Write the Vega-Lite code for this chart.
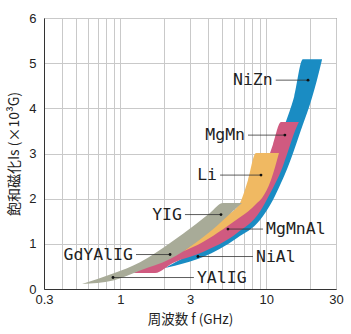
{
  "$schema": "https://vega.github.io/schema/vega-lite/v6.json",
  "width": 292,
  "height": 271,
  "autosize": {"type": "none"},
  "padding": {"left": 44, "top": 18, "right": 15, "bottom": 45},
  "background": "white",
  "config": {"view": {"stroke": "#555", "strokeWidth": 1}, "font": "Liberation Sans"},
  "datasets": {
    "bands": [
      {"band": "blue", "f": 2.02, "lo": 0.465, "hi": 0.465},
      {"band": "blue", "f": 2.77, "lo": 0.575, "hi": 0.708},
      {"band": "blue", "f": 3.68, "lo": 0.708, "hi": 0.931},
      {"band": "blue", "f": 6.30, "lo": 1.128, "hi": 1.440},
      {"band": "blue", "f": 9.05, "lo": 1.527, "hi": 2.206},
      {"band": "blue", "f": 11.1, "lo": 1.969, "hi": 2.887},
      {"band": "blue", "f": 12.6, "lo": 2.347, "hi": 3.392},
      {"band": "blue", "f": 13.4, "lo": 2.538, "hi": 3.644},
      {"band": "blue", "f": 15.5, "lo": 3.077, "hi": 4.259},
      {"band": "blue", "f": 17.8, "lo": 3.644, "hi": 5.088},
      {"band": "blue", "f": 19.0, "lo": 3.894, "hi": 5.088},
      {"band": "blue", "f": 22.2, "lo": 4.624, "hi": 5.088},
      {"band": "blue", "f": 24.1, "lo": 5.088, "hi": 5.088},
      {"band": "pink", "f": 1.22, "lo": 0.354, "hi": 0.354},
      {"band": "pink", "f": 1.73, "lo": 0.354, "hi": 0.597},
      {"band": "pink", "f": 2.29, "lo": 0.575, "hi": 0.819},
      {"band": "pink", "f": 3.68, "lo": 0.819, "hi": 1.173},
      {"band": "pink", "f": 6.30, "lo": 1.239, "hi": 1.637},
      {"band": "pink", "f": 9.05, "lo": 1.715, "hi": 2.412},
      {"band": "pink", "f": 10.6, "lo": 2.115, "hi": 3.009},
      {"band": "pink", "f": 11.1, "lo": 2.235, "hi": 3.197},
      {"band": "pink", "f": 12.6, "lo": 2.611, "hi": 3.695},
      {"band": "pink", "f": 14.3, "lo": 3.119, "hi": 3.695},
      {"band": "pink", "f": 15.7, "lo": 3.496, "hi": 3.695},
      {"band": "pink", "f": 16.7, "lo": 3.695, "hi": 3.695},
      {"band": "orange", "f": 2.69, "lo": 0.830, "hi": 0.830},
      {"band": "orange", "f": 3.68, "lo": 1.040, "hi": 1.173},
      {"band": "orange", "f": 5.05, "lo": 1.323, "hi": 1.571},
      {"band": "orange", "f": 6.60, "lo": 1.586, "hi": 1.903},
      {"band": "orange", "f": 7.49, "lo": 1.715, "hi": 2.412},
      {"band": "orange", "f": 8.50, "lo": 1.881, "hi": 3.009},
      {"band": "orange", "f": 9.34, "lo": 2.013, "hi": 3.009},
      {"band": "orange", "f": 10.76, "lo": 2.412, "hi": 3.009},
      {"band": "orange", "f": 12.2, "lo": 3.009, "hi": 3.009},
      {"band": "gray", "f": 0.546, "lo": 0.111, "hi": 0.111},
      {"band": "gray", "f": 0.891, "lo": 0.188, "hi": 0.343},
      {"band": "gray", "f": 1.364, "lo": 0.409, "hi": 0.595},
      {"band": "gray", "f": 2.19, "lo": 0.664, "hi": 1.018},
      {"band": "gray", "f": 3.30, "lo": 1.029, "hi": 1.438},
      {"band": "gray", "f": 4.11, "lo": 1.268, "hi": 1.681},
      {"band": "gray", "f": 5.05, "lo": 1.524, "hi": 1.903},
      {"band": "gray", "f": 6.81, "lo": 1.903, "hi": 1.903}
    ],
    "labels": [
      {"name": "NiZn", "dot": 19.3, "end": 11.6, "y": 4.624, "side": "L"},
      {"name": "MgMn", "dot": 13.4, "end": 7.49, "y": 3.407, "side": "L"},
      {"name": "Li", "dot": 9.19, "end": 4.82, "y": 2.522, "side": "L"},
      {"name": "YIG", "dot": 4.89, "end": 2.77, "y": 1.648, "side": "L"},
      {"name": "GdYAlIG", "dot": 2.19, "end": 1.28, "y": 0.763, "side": "L"},
      {"name": "MgMnAl", "dot": 5.46, "end": 9.49, "y": 1.327, "side": "R"},
      {"name": "NiAl", "dot": 3.40, "end": 8.10, "y": 0.719, "side": "R"},
      {"name": "YAlIG", "dot": 0.891, "end": 3.19, "y": 0.254, "side": "R"}
    ]
  },
  "layer": [
    {
      "data": {"name": "bands"},
      "transform": [{"filter": "datum.band === 'blue'"}],
      "mark": {"type": "area", "color": "#1a8cc3", "interpolate": "monotone"},
      "encoding": {
        "x": {"field": "f", "type": "quantitative", "title": "周波数 f (GHz)",
          "scale": {"type": "log", "domain": [0.3, 30], "nice": false},
          "axis": {"values": [0.3, 0.4, 0.5, 0.6, 0.7, 0.8, 0.9, 1, 2, 3, 4, 5, 6, 7, 8, 9, 10, 20, 30],
            "format": "~g",
            "labelExpr": "indexof([0.3, 1, 3, 10, 30], datum.value) >= 0 ? datum.label : ''",
            "labelFlush": false, "labelOverlap": false, "ticks": false,
            "grid": true, "gridColor": "#c9c9c9", "gridWidth": 1,
            "domainColor": "#333", "labelFontSize": 13, "labelColor": "#222", "labelPadding": 4,
            "titleFont": "Noto Sans CJK JP", "titleFontSize": 13.5, "titleFontWeight": "normal", "titleColor": "#222", "titlePadding": 6}},
        "y": {"field": "lo", "type": "quantitative", "title": "飽和磁化Is (×10³G)",
          "scale": {"domain": [0, 6], "nice": false},
          "axis": {"values": [0, 1, 2, 3, 4, 5, 6], "ticks": false, "grid": true, "gridColor": "#c9c9c9",
            "domainColor": "#333", "labelFontSize": 13, "labelColor": "#222", "labelPadding": 8,
            "titleFont": "Noto Sans CJK JP", "titleFontSize": 14, "titleFontWeight": "normal", "titleColor": "#222", "titlePadding": 7}},
        "y2": {"field": "hi"}
      }
    },
    {
      "data": {"name": "bands"},
      "transform": [{"filter": "datum.band === 'pink'"}],
      "mark": {"type": "area", "color": "#d05a80", "interpolate": "monotone"},
      "encoding": {
        "x": {"field": "f", "type": "quantitative", "title": "周波数 f (GHz)"},
        "y": {"field": "lo", "type": "quantitative", "title": "飽和磁化Is (×10³G)"},
        "y2": {"field": "hi"}
      }
    },
    {
      "data": {"name": "bands"},
      "transform": [{"filter": "datum.band === 'orange'"}],
      "mark": {"type": "area", "color": "#f0b962", "interpolate": "monotone"},
      "encoding": {
        "x": {"field": "f", "type": "quantitative", "title": "周波数 f (GHz)"},
        "y": {"field": "lo", "type": "quantitative", "title": "飽和磁化Is (×10³G)"},
        "y2": {"field": "hi"}
      }
    },
    {
      "data": {"name": "bands"},
      "transform": [{"filter": "datum.band === 'gray'"}],
      "mark": {"type": "area", "color": "#a8ab98", "interpolate": "monotone"},
      "encoding": {
        "x": {"field": "f", "type": "quantitative", "title": "周波数 f (GHz)"},
        "y": {"field": "lo", "type": "quantitative", "title": "飽和磁化Is (×10³G)"},
        "y2": {"field": "hi"}
      }
    },
    {
      "data": {"name": "labels"},
      "mark": {"type": "rule", "color": "#333", "strokeWidth": 0.8},
      "encoding": {
        "x": {"field": "dot", "type": "quantitative", "title": "周波数 f (GHz)"},
        "x2": {"field": "end"},
        "y": {"field": "y", "type": "quantitative", "title": "飽和磁化Is (×10³G)"}
      }
    },
    {
      "data": {"name": "labels"},
      "mark": {"type": "circle", "color": "#111", "size": 8, "opacity": 1},
      "encoding": {
        "x": {"field": "dot", "type": "quantitative", "title": "周波数 f (GHz)"},
        "y": {"field": "y", "type": "quantitative", "title": "飽和磁化Is (×10³G)"}
      }
    },
    {
      "data": {"name": "labels"},
      "transform": [{"filter": "datum.side === 'L'"}],
      "mark": {"type": "text", "align": "right", "baseline": "middle", "dx": -3, "font": "DejaVu Sans Mono", "fontSize": 16.5, "color": "#222"},
      "encoding": {
        "x": {"field": "end", "type": "quantitative", "title": "周波数 f (GHz)"},
        "y": {"field": "y", "type": "quantitative", "title": "飽和磁化Is (×10³G)"},
        "text": {"field": "name"}
      }
    },
    {
      "data": {"name": "labels"},
      "transform": [{"filter": "datum.side === 'R'"}],
      "mark": {"type": "text", "align": "left", "baseline": "middle", "dx": 3, "font": "DejaVu Sans Mono", "fontSize": 16.5, "color": "#222"},
      "encoding": {
        "x": {"field": "end", "type": "quantitative", "title": "周波数 f (GHz)"},
        "y": {"field": "y", "type": "quantitative", "title": "飽和磁化Is (×10³G)"},
        "text": {"field": "name"}
      }
    }
  ]
}
